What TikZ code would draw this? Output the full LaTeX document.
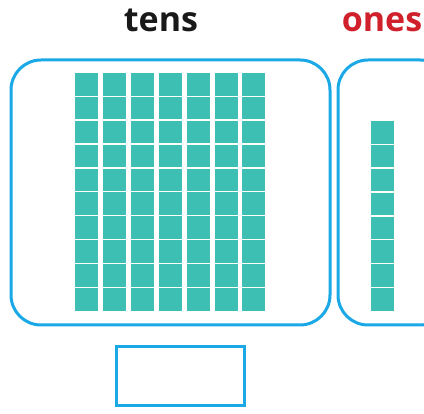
\documentclass[tikz,border=0pt]{standalone}
\usepackage{fontspec}
\setmainfont{Open Sans}
\definecolor{boxblue}{HTML}{1AA9E6}
\definecolor{cube}{HTML}{3DBFB4}
\definecolor{onesred}{HTML}{D0202C}
\begin{document}
\begin{tikzpicture}[x=1pt,y=-1pt,
  frame/.style={draw=boxblue,line width=3pt,rounded corners=30pt},
  cubebox/.style={fill=cube,draw=none},
  label/.style={font=\fontsize{34}{34}\selectfont\bfseries,anchor=base,inner sep=0pt}]
\clip (0,0) rectangle (424,414);
\fill[white] (0,0) rectangle (424,414);
% labels
\node[label,text=black!90] (tens) at (161,32) {tens};
\node[label,text=onesred] (ones) at (382,32) {ones};
% frames
\draw[frame] (11,60) rectangle (330,325);
\draw[frame] (338,60) rectangle (450,325);
% tens rods
\foreach \c in {0,...,6}{
  \foreach \r in {0,...,9}{
    \fill[cubebox] ({75+27.9*\c},{73+23.9*\r}) rectangle ++(23,22.6);
  }
}
% ones cubes
\foreach \r in {0,...,7}{
  \fill[cubebox] (371,{121+23.9*\r}) rectangle ++(23,22.6);
}
% answer box
\draw[draw=boxblue,line width=3pt] (116.5,346.5) rectangle (244.5,405.5);
\end{tikzpicture}
\end{document}
